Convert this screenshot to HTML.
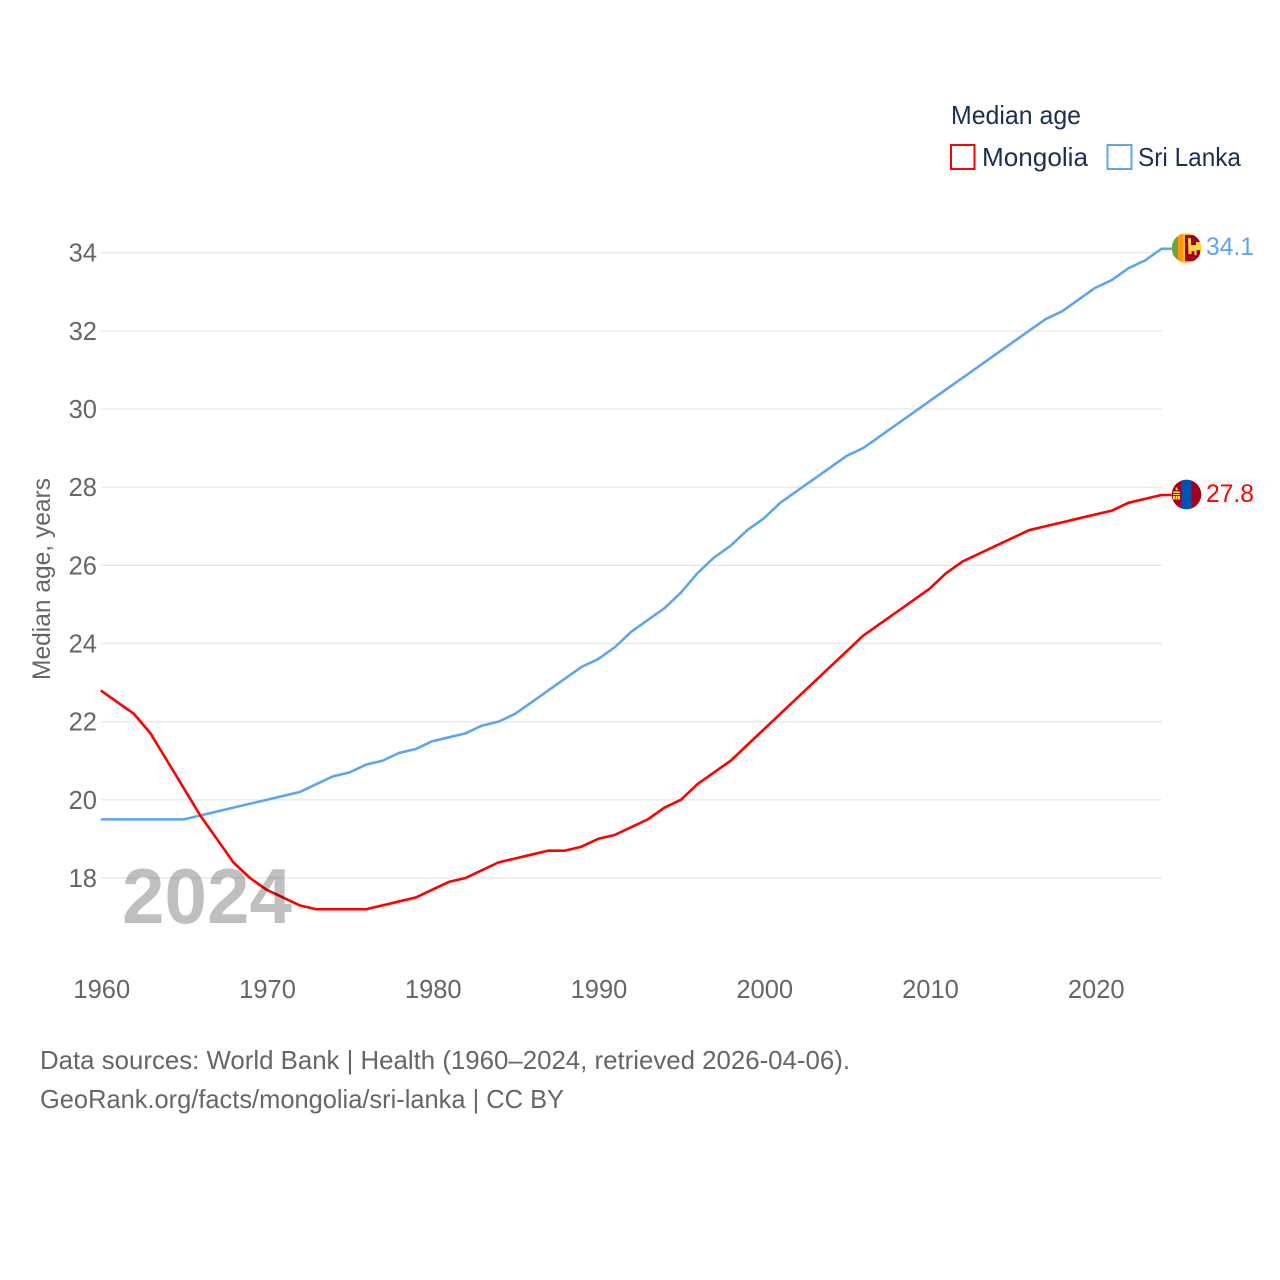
<!DOCTYPE html>
<html lang="en">
<head>
<meta charset="utf-8">
<title>Median age: Mongolia and Sri Lanka</title>
<style>
  html, body { margin: 0; padding: 0; background: #fff; }
  #chart { display: block; width: 1280px; height: 1280px; }
  text { font-family: "Liberation Sans", sans-serif; }
</style>
</head>
<body>
<svg id="chart" xmlns="http://www.w3.org/2000/svg" width="1280" height="1280" viewBox="0 0 1280 1280">
  <rect width="1280" height="1280" fill="#fff"/>
  <defs>
    <clipPath id="flag-clip"><circle cx="0" cy="0" r="14.8"/></clipPath>
  </defs>

  <g id="grid"></g>
  <g id="y-ticks"></g>
  <g id="x-ticks"></g>

  <text transform="translate(50,579) rotate(-90)" text-anchor="middle" font-size="25" fill="#666" textLength="202" lengthAdjust="spacingAndGlyphs">Median age, years</text>

  <g id="series"></g>

  <text x="122" y="923" font-size="78" font-weight="bold" fill="#000" fill-opacity="0.25" textLength="170" lengthAdjust="spacingAndGlyphs">2024</text>

  <g>
    <text x="951" y="124" font-size="26" fill="#1b2f52" textLength="130" lengthAdjust="spacingAndGlyphs">Median age</text>
    <g>
      <rect x="951" y="145" width="23.500" height="24" fill="#fff" stroke="#ff0000" stroke-width="2"/>
      <text x="982" y="166" font-size="26" fill="#1b2f52" textLength="106" lengthAdjust="spacingAndGlyphs">Mongolia</text>
    </g>
    <g>
      <rect x="1107.500" y="145" width="24" height="24" fill="#fff" stroke="#5ea5f0" stroke-width="2"/>
      <text x="1138" y="166" font-size="26" fill="#1b2f52" textLength="103" lengthAdjust="spacingAndGlyphs">Sri Lanka</text>
    </g>
  </g>

  <g id="flag-lk">
    <g clip-path="url(#flag-clip)">
      <rect x="-15" y="-15" width="30" height="30" fill="#ffbe29"/>
      <rect x="-15" y="-15" width="6.500" height="30" fill="#6da544"/>
      <rect x="-8.500" y="-15" width="5" height="30" fill="#ff9811"/>
      <rect x="-1.500" y="-13" width="15" height="26" fill="#a2001d"/>
      <path d="M1.500-10h3v7h5v-3h4.500v8h-4v5h-2v-4h-3v3h-3z" fill="#ffda44"/>
    </g>
  </g>
  <g id="flag-mn">
    <g clip-path="url(#flag-clip)">
      <rect x="-15" y="-15" width="30" height="30" fill="#a2001d"/>
      <rect x="-5" y="-15" width="10" height="30" fill="#0052b4"/>
      <path d="M-10.800-7h1.800v3h-1.800zM-13.500-3h7v1.500h-7zM-13.500-.5h7v1h-7zM-13.500 1.500h2v3.500h-2zM-8.500 1.500h2v3.500h-2zM-11 1.500h2v3.500h-2z" fill="#ffda44"/>
    </g>
  </g>

  <text id="value-lk" x="1206" font-size="25" fill="#5ea5f0" textLength="48" lengthAdjust="spacingAndGlyphs"></text>
  <text id="value-mn" x="1206" font-size="25" fill="#ff0000" textLength="48" lengthAdjust="spacingAndGlyphs"></text>

  <g>
    <text x="40" y="1069" font-size="26" fill="#666" textLength="810" lengthAdjust="spacingAndGlyphs">Data sources: World Bank | Health (1960–2024, retrieved 2026-04-06).</text>
    <text x="40" y="1108" font-size="26" fill="#666" textLength="524" lengthAdjust="spacingAndGlyphs">GeoRank.org/facts/mongolia/sri-lanka | CC BY</text>
  </g>
</svg>

<script>
const years = [];
for (let yr = 1960; yr <= 2024; yr++) years.push(yr);
const mongolia = [22.8,22.5,22.2,21.7,21.0,20.3,19.6,19.0,18.4,18.0,17.7,17.5,17.3,17.2,17.2,17.2,17.2,17.3,17.4,17.5,17.7,17.9,18.0,18.2,18.4,18.5,18.6,18.7,18.7,18.8,19.0,19.1,19.3,19.5,19.8,20.0,20.4,20.7,21.0,21.4,21.8,22.2,22.6,23.0,23.4,23.8,24.2,24.5,24.8,25.1,25.4,25.8,26.1,26.3,26.5,26.7,26.9,27.0,27.1,27.2,27.3,27.4,27.6,27.7,27.8];
const sriLanka = [19.5,19.5,19.5,19.5,19.5,19.5,19.6,19.7,19.8,19.9,20.0,20.1,20.2,20.4,20.6,20.7,20.9,21.0,21.2,21.3,21.5,21.6,21.7,21.9,22.0,22.2,22.5,22.8,23.1,23.4,23.6,23.9,24.3,24.6,24.9,25.3,25.8,26.2,26.5,26.9,27.2,27.6,27.9,28.2,28.5,28.8,29.0,29.3,29.6,29.9,30.2,30.5,30.8,31.1,31.4,31.7,32.0,32.3,32.5,32.8,33.1,33.3,33.6,33.8,34.1];
const yTicks = [18,20,22,24,26,28,30,32,34];
const xTicks = [1960,1970,1980,1990,2000,2010,2020];

const NS = 'http://www.w3.org/2000/svg';
function xScale(year) { return 100.8 + (year - 1960) * (1161.5 - 100.8) / 64; }
function yScale(val) { return 252.7 + (34 - val) * (878 - 252.7) / 16; }

const gridGroup = document.getElementById('grid');
const yTickGroup = document.getElementById('y-ticks');
yTicks.forEach(function (t) {
  const line = document.createElementNS(NS, 'line');
  
  
  line.setAttribute('x1', 101);
  line.setAttribute('x2', 1162);
  line.setAttribute('y1', yScale(t));
  line.setAttribute('y2', yScale(t));
  line.setAttribute('stroke', '#e8e8e8');
  line.setAttribute('stroke-width', '1.3');
  gridGroup.appendChild(line);

  const label = document.createElementNS(NS, 'text');
  
  
  label.setAttribute('x', 97);
  label.setAttribute('y', yScale(t) + 9);
  label.setAttribute('text-anchor', 'end');
  label.setAttribute('font-size', '25.5');
  label.setAttribute('fill', '#666');
  label.textContent = t;
  yTickGroup.appendChild(label);
});

const xTickGroup = document.getElementById('x-ticks');
xTicks.forEach(function (t) {
  const label = document.createElementNS(NS, 'text');
  
  
  label.setAttribute('x', xScale(t) + 1);
  label.setAttribute('y', 998);
  label.setAttribute('text-anchor', 'middle');
  label.setAttribute('font-size', '25.5');
  label.setAttribute('fill', '#666');
  label.textContent = t;
  xTickGroup.appendChild(label);
});

function linePath(values) {
  return values.map(function (v, i) {
    return (i ? 'L' : 'M') + xScale(years[i]).toFixed(2) + ' ' + yScale(v).toFixed(2);
  }).join('');
}

const seriesGroup = document.getElementById('series');

const lkLine = document.createElementNS(NS, 'path');


lkLine.setAttribute('d', linePath(sriLanka) + 'h10');
lkLine.setAttribute('fill', 'none');
lkLine.setAttribute('stroke', '#5ea5f0');
lkLine.setAttribute('stroke-width', '2.6');
lkLine.setAttribute('stroke-linejoin', 'round');
seriesGroup.appendChild(lkLine);

const mnLine = document.createElementNS(NS, 'path');


mnLine.setAttribute('d', linePath(mongolia) + 'h10');
mnLine.setAttribute('fill', 'none');
mnLine.setAttribute('stroke', '#ff0000');
mnLine.setAttribute('stroke-width', '2.6');
mnLine.setAttribute('stroke-linejoin', 'round');
seriesGroup.appendChild(mnLine);

const lastLk = sriLanka[sriLanka.length - 1];
const lastMn = mongolia[mongolia.length - 1];
document.getElementById('flag-lk').setAttribute('transform', 'translate(1186.5,' + (yScale(lastLk) - 0.7) + ')');
document.getElementById('flag-mn').setAttribute('transform', 'translate(1186.5,' + (yScale(lastMn) - 0.5) + ')');
const valueLk = document.getElementById('value-lk');
valueLk.setAttribute('y', yScale(lastLk) + 6);
valueLk.textContent = lastLk.toFixed(1);
const valueMn = document.getElementById('value-mn');
valueMn.setAttribute('y', yScale(lastMn) + 7);
valueMn.textContent = lastMn.toFixed(1);
</script>
</body>
</html>
